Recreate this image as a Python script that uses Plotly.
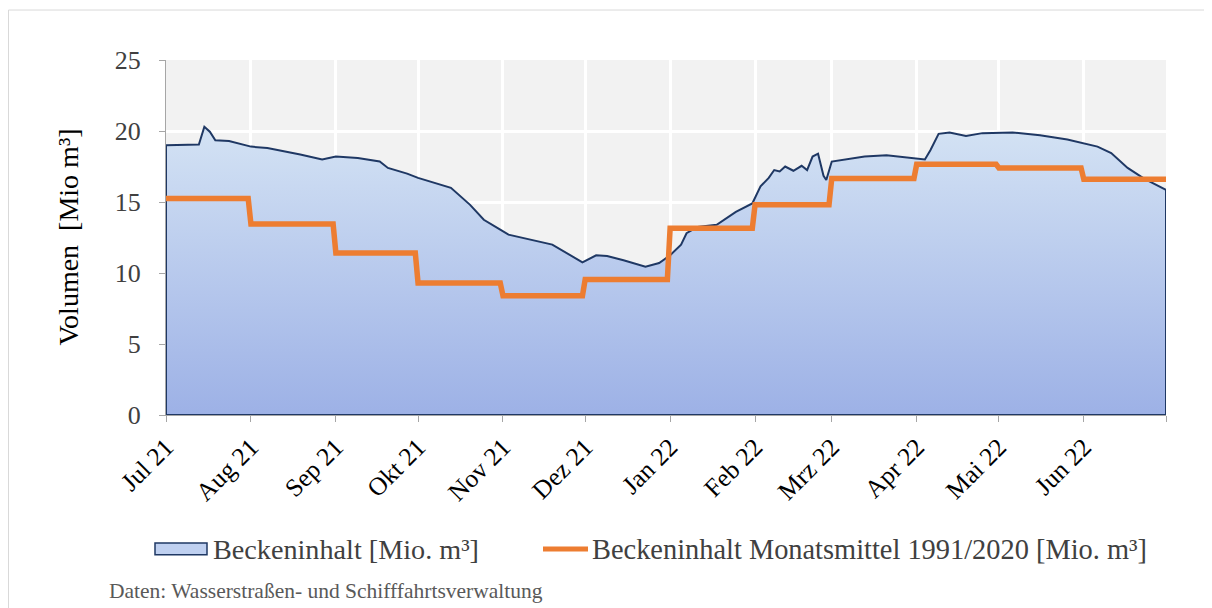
import plotly.graph_objects as go
import pandas as pd

# ---- data ----
blue_dates = ["2021-07-01","2021-07-13","2021-07-15","2021-07-17","2021-07-19","2021-07-24","2021-07-28",
              "2021-08-01","2021-08-07","2021-08-13","2021-08-19","2021-08-27",
              "2021-09-01","2021-09-09","2021-09-17","2021-09-20","2021-09-27",
              "2021-10-01","2021-10-08","2021-10-13","2021-10-20","2021-10-25","2021-10-31",
              "2021-11-03","2021-11-19","2021-11-30",
              "2021-12-05","2021-12-09","2021-12-15","2021-12-23","2021-12-28",
              "2022-01-01","2022-01-05","2022-01-07","2022-01-11","2022-01-18","2022-01-25","2022-01-31",
              "2022-02-03","2022-02-06","2022-02-08","2022-02-10","2022-02-12","2022-02-15","2022-02-18",
              "2022-02-20","2022-02-22","2022-02-24","2022-02-26","2022-02-27",
              "2022-03-01","2022-03-06","2022-03-13","2022-03-21","2022-03-26",
              "2022-04-04","2022-04-06","2022-04-09","2022-04-13","2022-04-19","2022-04-25",
              "2022-05-06","2022-05-16","2022-05-26",
              "2022-06-06","2022-06-11","2022-06-17","2022-06-23","2022-07-01"]
blue_values = [19.0,19.05,20.3,19.95,19.35,19.3,19.1,
               18.9,18.8,18.6,18.35,18.0,
               18.2,18.1,17.85,17.4,17.0,
               16.7,16.3,16.0,14.8,13.75,13.05,
               12.7,12.0,10.75,
               11.25,11.2,10.9,10.45,10.7,
               11.25,12.0,12.8,13.25,13.4,14.3,14.9,
               16.1,16.7,17.25,17.15,17.5,17.2,17.55,
               17.25,18.2,18.4,16.85,16.55,
               17.85,18.0,18.2,18.3,18.2,
               18.0,18.65,19.8,19.9,19.65,19.85,
               19.9,19.7,19.4,
               18.9,18.45,17.4,16.65,15.85]
assert len(blue_dates) == len(blue_values)

month_starts = ["2021-07-01","2021-08-01","2021-09-01","2021-10-01","2021-11-01","2021-12-01",
                "2022-01-01","2022-02-01","2022-03-01","2022-04-01","2022-05-01","2022-06-01","2022-07-01"]
month_labels = ["Jul 21","Aug 21","Sep 21","Okt 21","Nov 21","Dez 21",
                "Jan 22","Feb 22","Mrz 22","Apr 22","Mai 22","Jun 22",""]
monthly_mean = [15.25,13.45,11.4,9.3,8.4,9.55,13.15,14.8,16.65,17.65,17.4,16.6]

y_ticks = [0, 5, 10, 15, 20, 25]

series_names = ["Beckeninhalt [Mio. m³]", "Beckeninhalt Monatsmittel 1991/2020 [Mio. m³]"]
source_text = "Daten: Wasserstraßen- und Schifffahrtsverwaltung"

# ---- derived series ----
# monthly mean as a daily step series
o_x, o_y = [], []
for i, v in enumerate(monthly_mean):
    days = pd.date_range(month_starts[i], pd.Timestamp(month_starts[i + 1]) - pd.Timedelta(days=1), freq="D")
    o_x += list(days)
    o_y += [v] * len(days)
o_x.append(pd.Timestamp(month_starts[-1]))
o_y.append(monthly_mean[-1])

# closed polygon for the area (Excel-like outline on all sides)
a_x = [blue_dates[0]] + blue_dates + [blue_dates[-1], blue_dates[0]]
a_y = [0] + blue_values + [0, 0]

FONT = "Liberation Serif"
TXT = "#404040"
BLUE_LINE = "#1f3864"
ORANGE = "#ed7d31"

fig = go.Figure()
fig.add_trace(go.Scatter(
    x=a_x, y=a_y, mode="lines", fill="toself",
    fillgradient=dict(type="vertical", start=0, stop=20.5,
                      colorscale=[[0, "#9db1e6"], [1, "#d4e3f4"]]),
    line=dict(color=BLUE_LINE, width=2),
    name=series_names[0], hoverinfo="skip", showlegend=False))
fig.add_trace(go.Scatter(
    x=o_x, y=o_y, mode="lines",
    line=dict(color=ORANGE, width=5.5),
    name=series_names[1], showlegend=False))

# page has an 8px body margin -> figure is 1204x600 drawn at (8,8)
fig.update_layout(
    width=1204, height=600,
    margin=dict(l=158, r=46, t=52, b=193),
    paper_bgcolor="white", plot_bgcolor="#f2f2f2",
    font=dict(family=FONT, color=TXT, size=22),
    showlegend=False,
    xaxis=dict(type="date", range=[month_starts[0], month_starts[-1]],
               tickvals=month_starts, ticktext=month_labels, tickangle=-45,
               tickfont=dict(family=FONT, size=25.5, color="#000000"),
               showgrid=True, gridcolor="white", gridwidth=2.5,
               showline=True, linecolor="#a6a6a6", linewidth=1,
               ticks="outside", ticklen=6, tickcolor="#a6a6a6", zeroline=False),
    yaxis=dict(range=[0, 25], tickmode="array", tickvals=y_ticks,
               ticktext=[f"{v}\u2002" for v in y_ticks],
               tickfont=dict(family=FONT, size=26, color=TXT),
               showgrid=True, gridcolor="white", gridwidth=2.5,
               showline=True, linecolor="#a6a6a6", linewidth=1,
               ticks="outside", ticklen=6, tickcolor="#a6a6a6", zeroline=False),
    annotations=[
        dict(text="Volumen  [Mio m³]", x=-0.098, y=0.5, xref="paper", yref="paper",
             textangle=-90, showarrow=False, xanchor="center", yanchor="middle",
             font=dict(family=FONT, size=28, color="#000000")),
        dict(text=source_text, x=-0.059, y=-0.496,
             xref="paper", yref="paper", showarrow=False, xanchor="left", yanchor="middle",
             font=dict(family=FONT, size=21.5, color="#595959")),
        # legend texts
        dict(text=series_names[0], x=0.045, y=-0.3775, xref="paper", yref="paper",
             showarrow=False, xanchor="left", yanchor="middle",
             font=dict(family=FONT, size=28.2, color=TXT)),
        dict(text=series_names[1], x=0.424, y=-0.3775, xref="paper", yref="paper",
             showarrow=False, xanchor="left", yanchor="middle",
             font=dict(family=FONT, size=28.4, color=TXT)),
    ],
    shapes=[
        # outer frame lines
        dict(type="line", xref="paper", yref="paper", x0=-0.1575, x1=1.05, y0=1.1408, y1=1.1408,
             line=dict(color="#d9d9d9", width=1)),
        dict(type="line", xref="paper", yref="paper", x0=-0.1575, x1=-0.1575, y0=1.1408, y1=-0.56,
             line=dict(color="#d9d9d9", width=1)),
        # legend symbols
        dict(type="rect", xref="paper", yref="paper", x0=-0.011, x1=0.041, y0=-0.394, y1=-0.3606,
             fillcolor="#bfd0f0", line=dict(color=BLUE_LINE, width=1.5)),
        dict(type="line", xref="paper", yref="paper", x0=0.377, x1=0.422, y0=-0.3775, y1=-0.3775,
             line=dict(color=ORANGE, width=5)),
    ],
)

fig.write_html("out.html")
